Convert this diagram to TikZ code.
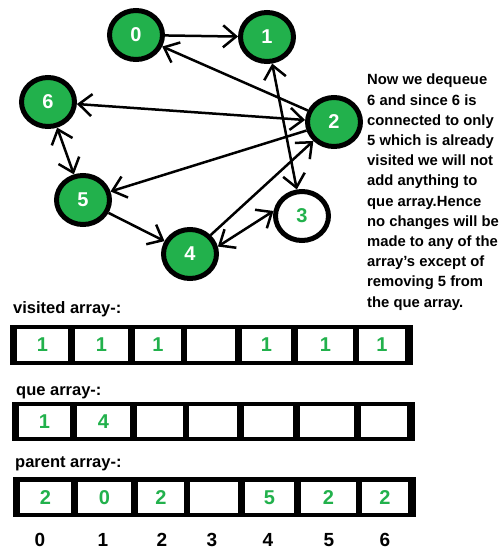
\documentclass[tikz,border=0pt]{standalone}
\usepackage{fontspec}
\setmainfont{Liberation Sans}
\usetikzlibrary{arrows.meta,shapes.geometric}
\definecolor{paintgreen}{RGB}{34,177,76}

\tikzset{
  vertex/.style={ellipse,draw=black,line width=5pt,fill=paintgreen,text=white,
    minimum width=53pt,minimum height=49pt,inner sep=0pt,
    font=\fontsize{20}{20}\selectfont\bfseries},
  edge/.style={line width=2.5pt},
  lbl/.style={anchor=base west,inner sep=0pt,font=\fontsize{16.5}{18}\selectfont\bfseries},
  val/.style={inner sep=0pt,text=paintgreen,font=\fontsize{20}{20}\selectfont\bfseries},
  idx/.style={inner sep=0pt,font=\fontsize{19}{19}\selectfont\bfseries}
}

\begin{document}
\begin{tikzpicture}[x=1pt,y=-1pt,>={Straight Barb[length=13pt,width=22pt]}]
  \useasboundingbox (0,0) rectangle (502,560);

  % Graph
  \node[vertex] (n0) at (136,35) {0};
  \node[vertex] (n1) at (267,37) {1};
  \node[vertex] (n6) at (48,102) {6};
  \node[vertex] (n2) at (334,122) {2};
  \node[vertex] (n5) at (83,200) {5};
  \node[vertex,fill=white,text=paintgreen] (n3) at (302,216) {3};
  \node[vertex] (n4) at (190,254) {4};

  \draw[edge,->] (n0) -- (n1);
  \draw[edge,->] (n2) -- (n0);
  \draw[edge,<->] (n2) -- (n6);
  \draw[edge,<->] (n6) -- (n5);
  \draw[edge,->] (n2) -- (n5);
  \draw[edge,->] (n5) -- (n4);
  \draw[edge,->] (n4) -- (n2);
  \draw[edge,<->] (n1) -- (n3);
  \draw[edge,<->] (n3.170) -- (n4.15);

  % Explanation
  \node[anchor=north west,inner sep=0pt,align=left,
    font=\fontsize{14.8}{20.2}\selectfont\bfseries] (note) at (367,74)
    {Now we dequeue\\6 and since 6 is\\connected to only\\5 which is already\\
     visited we will not\\add anything to\\que array.Hence\\no changes will be\\
     made to any of the\\array’s except of\\removing 5 from\\the que array.};

  % Visited array
  \node[lbl] (vislbl) at (13,313) {visited array-:};
  \fill (10,325) rectangle (413,365);
  \foreach \l/\r/\v [count=\i from 0] in
    {17/68/1,75/128/1,135/181/1,187/235/{},242/291/1,298/353/1,359/405/1}
  { \fill[white] (\l,329) rectangle (\r,361);
    \node[val] (vis\i) at ({(\l+\r)/2},345) {\v}; }

  % Que array
  \node[lbl] (quelbl) at (16,395) {que array-:};
  \fill (12,402) rectangle (415,441);
  \foreach \l/\r/\v [count=\i from 0] in
    {19/70/1,77/130/4,137/183/{},189/237/{},244/293/{},300/354/{},361/407/{}}
  { \fill[white] (\l,406) rectangle (\r,437);
    \node[val] (que\i) at ({(\l+\r)/2},422) {\v}; }

  % Parent array
  \node[lbl] (parlbl) at (15,467) {parent array-:};
  \fill (13,477) rectangle (416,517);
  \foreach \l/\r/\v [count=\i from 0] in
    {20/71/2,78/131/0,138/184/2,190/238/{},245/294/5,301/356/2,362/408/2}
  { \fill[white] (\l,482) rectangle (\r,513);
    \node[val] (par\i) at ({(\l+\r)/2},498) {\v}; }

  % Indices
  \foreach \x [count=\i from 0] in {40,103,162,212,268,329,385}
    \node[idx] (idx\i) at (\x,540) {\i};
\end{tikzpicture}
\end{document}
